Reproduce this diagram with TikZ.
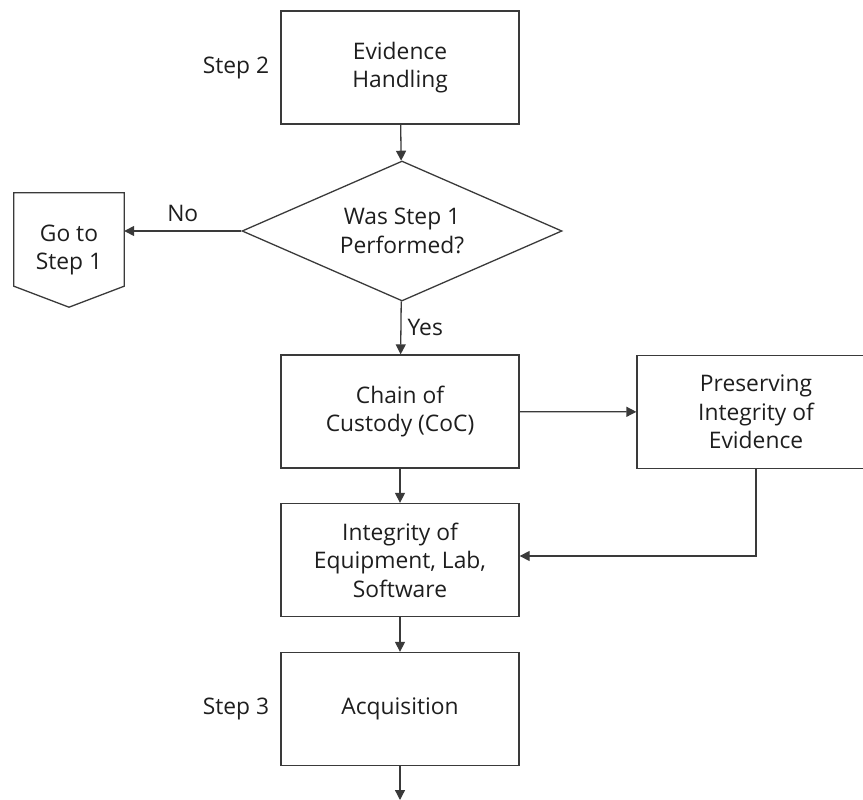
\documentclass[tikz,border=0pt]{standalone}
\usepackage{fontspec}
\setmainfont{Open Sans}
\usetikzlibrary{calc,positioning,arrows.meta,shapes.geometric}
\definecolor{flline}{RGB}{58,58,58}
\definecolor{fltext}{RGB}{30,30,30}

\tikzset{
  flbox/.style={draw=flline,line width=1.3pt,minimum width=238pt,minimum height=113pt,
    align=center,inner sep=2pt,text=fltext},
  fldecide/.style={draw=flline,line width=1.3pt,diamond,aspect=2.29,minimum width=320pt,
    minimum height=140pt,inner sep=0pt,align=center,text=fltext},
  flarrow/.style={draw=flline,line width=1.3pt,-{Triangle[length=10pt,width=10pt]}},
  fllabel/.style={text=fltext,inner sep=0pt}
}

\begin{document}
\begin{tikzpicture}[x=1pt,y=-1pt,font=\fontsize{22.8}{28.5}\selectfont]
        \useasboundingbox (0,0) rectangle (863,800);
        \node[flbox] (handling) at (400,67.5) {Evidence\\Handling};
        \node[fldecide] (performed) at (402,231) {Was Step 1\\Performed?};
        \node[fllabel,align=center,minimum width=110pt,minimum height=114pt] (gotostep) at (69,250) {Go to\\Step 1};
        \draw[flline,line width=1.3pt] (gotostep.north west) -- (gotostep.north east)
              -- ($(gotostep.south east)+(0,-21)$) -- (gotostep.south)
              -- ($(gotostep.south west)+(0,-21)$) -- cycle;
        \node[flbox] (custody) at (400,411.5) {Chain of\\Custody (CoC)};
        \node[flbox] (preserve) at (756,412) {Preserving\\Integrity of\\Evidence};
        \node[flbox] (equipment) at (400,560) {Integrity of\\Equipment, Lab,\\Software};
        \node[flbox] (acquire) at (400,709) {Acquisition};
        \node[fllabel,left=11pt of handling] (steptwo) {Step 2};
        \node[fllabel,left=11pt of acquire] (stepthree) {Step 3};
        \coordinate (nextstep) at (400,800);

        \draw[flarrow] (handling) -- (performed);
        \draw[flarrow] (performed.west) -- (performed.west -| gotostep.east)
              node[midway,above=9pt,fllabel] {No};
        \draw[flarrow] (performed) -- (custody)
              node[midway,right=6pt,fllabel] {Yes};
        \draw[flarrow] (custody) -- (preserve);
        \draw[flarrow] (custody) -- (equipment);
        \draw[flarrow] (preserve.south) |- ([yshift=4pt]equipment.east);
        \draw[flarrow] (equipment) -- (acquire);
        \draw[flarrow] (acquire) -- (nextstep);
      \end{tikzpicture}
\end{document}
